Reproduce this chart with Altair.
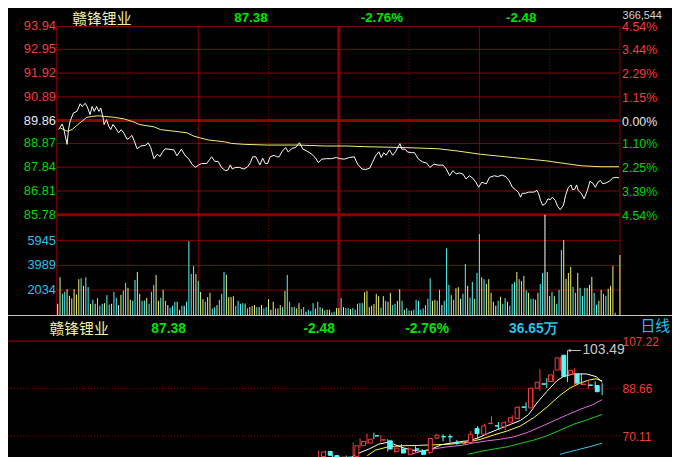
import altair as alt
import pandas as pd

# ---------------- values ----------------
stock_name = "赣锋锂业"
last_price = "87.38"
change_abs = "-2.48"
change_pct = "-2.76%"
total_volume = "366,544"
day_volume = "36.65万"
period_name = "日线"
prev_close = 89.86

price_ticks = [93.94, 92.95, 91.92, 90.89, 89.86, 88.87, 87.84, 86.81, 85.78]
pct_ticks = ["4.54%", "3.44%", "2.29%", "1.15%", "0.00%", "1.10%", "2.25%", "3.39%", "4.54%"]
vol_ticks = [5945, 3989, 2034]
kline_ticks = [107.22, 88.66, 70.11]
time_dotted = [30, 90, 150, 210]
time_solid = [60, 180, 240]
time_center = [120]

# intraday price (minute, price)
intraday = [
    (0.4, 89.47), (1.9, 89.71), (2.5, 89.54), (4.0, 88.83), (4.6, 89.47), (5.3, 89.83), (6.7, 90.19),
    (8.2, 90.26), (9.6, 90.59), (10.5, 90.47), (11.7, 90.61), (12.6, 90.47), (13.8, 90.12), (14.7, 90.47),
    (15.6, 90.26), (16.6, 90.47), (17.6, 90.26), (18.4, 90.40), (19.4, 89.97), (19.8, 89.69), (20.8, 89.90),
    (21.8, 89.62), (22.6, 89.47), (23.6, 89.69), (24.7, 89.54), (26.0, 89.33), (27.1, 89.47), (28.2, 89.33),
    (29.6, 89.05), (30.6, 89.11), (31.7, 89.22), (32.7, 88.97), (33.9, 88.64), (35.5, 88.76), (37.6, 88.79),
    (38.6, 88.90), (39.7, 88.69), (41.1, 88.21), (42.5, 88.40), (43.7, 88.30), (44.6, 88.47), (45.8, 88.64),
    (47.5, 88.62), (49.6, 88.59), (50.9, 88.33), (52.8, 88.62), (54.5, 88.33), (55.9, 88.21), (57.3, 87.97),
    (58.7, 87.83), (60.1, 87.93), (61.5, 88.00), (63.6, 88.00), (65.7, 88.29), (67.1, 88.09), (68.5, 88.09),
    (69.9, 87.83), (71.6, 87.69), (72.7, 87.72), (73.7, 87.94), (74.5, 87.76), (75.8, 87.83), (77.6, 87.83),
    (79.5, 87.76), (81.1, 87.86), (82.3, 88.04), (83.2, 88.29), (84.6, 88.29), (86.3, 87.94), (87.5, 88.23),
    (88.6, 88.00), (89.6, 88.00), (90.7, 88.29), (92.4, 88.36), (93.5, 88.29), (94.5, 88.29), (95.9, 88.54),
    (97.3, 88.69), (98.4, 88.50), (100.1, 88.66), (101.5, 88.69), (103.2, 88.90), (104.7, 88.62), (106.4, 88.54),
    (108.5, 88.40), (109.9, 88.26), (111.3, 88.04), (112.7, 88.19), (114.8, 88.21), (116.9, 88.21), (119.0, 88.26),
    (120.4, 88.21), (122.4, 88.19), (124.5, 88.26), (126.6, 88.29), (128.0, 87.97), (129.9, 87.76), (131.5, 87.74),
    (133.2, 87.80), (134.3, 88.04), (135.7, 88.33), (137.1, 88.51), (138.1, 88.26), (139.2, 88.47), (140.2, 88.36),
    (141.6, 88.59), (143.0, 88.36), (144.2, 88.51), (145.1, 88.69), (146.1, 88.86), (146.9, 88.62), (148.4, 88.62),
    (149.3, 88.50), (150.9, 88.47), (152.3, 88.47), (154.0, 88.19), (155.7, 88.07), (157.5, 88.02), (158.9, 87.83),
    (160.6, 87.97), (162.4, 87.93), (164.5, 87.93), (165.9, 87.76), (167.3, 87.47), (168.7, 87.69), (170.1, 87.55),
    (171.5, 87.59), (172.9, 87.55), (174.3, 87.33), (175.7, 87.47), (177.1, 87.37), (178.5, 87.19), (179.7, 86.97),
    (181.0, 87.19), (183.0, 87.12), (184.3, 87.40), (186.4, 87.47), (187.8, 87.43), (189.6, 87.50), (191.3, 87.43),
    (192.7, 87.26), (194.1, 86.97), (195.5, 86.86), (196.6, 86.76), (197.6, 86.54), (198.3, 86.71), (199.7, 86.71),
    (201.1, 86.76), (203.3, 86.76), (204.6, 86.83), (205.3, 86.69), (206.1, 86.40), (207.0, 86.19), (208.2, 86.26),
    (209.3, 86.47), (210.3, 86.43), (211.2, 86.54), (212.4, 86.40), (213.4, 86.14), (214.5, 86.00), (215.9, 86.19),
    (216.8, 86.62), (218.0, 86.97), (219.1, 87.07), (219.8, 86.86), (220.8, 86.90), (221.5, 87.07), (222.2, 86.83),
    (223.6, 86.69), (224.7, 86.47), (226.1, 86.83), (227.2, 87.23), (228.5, 87.14), (229.5, 86.97), (230.6, 87.19),
    (231.7, 87.26), (232.7, 87.12), (234.1, 87.16), (235.5, 87.23), (236.9, 87.37), (238.3, 87.40), (239.6, 87.38),
]

# intraday average price (minute, price)
avg_line = [
    (1.1, 89.54), (4.0, 89.40), (6.1, 89.47), (8.2, 89.65), (10.3, 89.83), (12.4, 90.00), (14.5, 90.04),
    (17.3, 90.07), (20.1, 90.04), (24.3, 90.00), (28.5, 89.93), (32.7, 89.79), (34.8, 89.69), (41.1, 89.59),
    (43.9, 89.47), (49.6, 89.40), (55.2, 89.33), (58.0, 89.19), (60.8, 89.11), (64.3, 89.02), (71.3, 88.94),
    (74.1, 88.87), (79.7, 88.83), (89.6, 88.80), (102.2, 88.80), (114.1, 88.76), (123.3, 88.76), (130.9, 88.73),
    (148.4, 88.69), (162.4, 88.64), (170.8, 88.54), (180.6, 88.40), (194.1, 88.26), (208.2, 88.12), (216.6, 88.00),
    (223.6, 87.90), (232.0, 87.86), (239.6, 87.86),
]

# per-minute volume (hands)
vol_morning = [
    946, 3047, 1734, 1891, 2102, 1576, 1366, 2102, 1681, 2890,
    2969, 2364, 3047, 2259, 946, 1261, 946, 1392, 788, 946,
    998, 1629, 867, 946, 1891, 1419, 841, 1655, 1997, 2601,
    2207, 1261, 1182, 2837, 3468, 1734, 1182, 1208, 1419, 946,
    1891, 2443, 3231, 1182, 1419, 2049, 1182, 841, 630, 788,
    1103, 1103, 473, 788, 788, 1103, 5911, 3310, 3941, 3310,
    2758, 1891, 1314, 1103, 1471, 1813, 578, 683, 841, 1261,
    1734, 3468, 3231, 1471, 1471, 1550, 762, 1182, 946, 998,
    946, 578, 683, 762, 841, 683, 683, 841, 578, 683,
    1314, 473, 1103, 578, 578, 841, 683, 1970, 3231, 1103,
    683, 683, 578, 998, 525, 683, 315, 473, 368, 998,
    578, 1103, 683, 578, 420, 473, 473, 263, 315,
]
vol_afternoon = [
    604, 604, 1392, 683, 604, 604, 525, 604, 473, 946,
    998, 998, 1865, 1970, 683, 788, 919, 1734, 1550, 630,
    1550, 1182, 1103, 1813, 841, 946, 1182, 2102, 1182, 473,
    604, 420, 394, 473, 1261, 1182, 473, 578, 841, 1340,
    2969, 1182, 1261, 1182, 2049, 841, 1182, 5333, 2443, 1629,
    1261, 2180, 2259, 1340, 1734, 4098, 2364, 1419, 2680, 1340,
    3389, 6462, 3047, 2890, 2522, 2890, 1813, 1103, 788, 1182,
    1497, 946, 1392, 1103, 788, 2522, 2680, 3468, 2890, 2758,
    3152, 2023, 1813, 1340, 1340, 1261, 1813, 2522, 3389, 9200,
    3468, 1550, 1891, 1550, 946, 2049, 5201, 5990, 2916, 3389,
    3862, 2285, 1813, 3389, 2207, 1576, 2207, 2207, 2443, 3074,
    1813, 867, 1182, 2049, 1734, 1576, 2128, 2364, 3941, 236,
    60, 4807,
]
# U = up tick, D = down tick, F = unchanged
vol_dir = (
    "FUDDUUUUUU" "DUDDUDUDDD" "UDDUDDFUDD" "UUDDUUDDUD" "DDUUDUDFDD" "DUUDFDDDDU"
    "DUUDUUDDUD" "DDUUUUDDDD" "UDUUUDUUDD" "UFUDUUDUDD" "UDUUDDFDDD" "UDDUDUUDD"
    "UUDUDDUDDD" "DDUUUUUUUD" "UDUUDDUUDU" "DDUDDDDDDD" "DUUDDFDDDU" "DUUFDDUDDU"
    "DDUDUUUUFD" "UDDUDDDUDD" "UDUDDUUDDF" "UUDUDDDUUU" "UDDUDDDUUU" "DDUUDDUUUDDU"
)

# daily candles (oldest first)
k_open = [62.0, 64.0, 62.4, 61.0, 61.8, 62.0, 66.24, 67.27, 70.15, 68.50, 68.17, 64.05, 64.95, 62.89,
          65.00, 64.30, 63.66, 69.20, 69.80, 69.80, 67.60, 67.10, 67.52, 72.94, 70.74, 74.95, 74.05,
          73.71, 75.51, 76.93, 81.40, 81.05, 88.78, 90.45, 91.36, 95.87, 101.66, 94.19, 94.32, 90.25,
          90.00, 89.80]
k_high = [64.3, 64.2, 62.7, 62.3, 62.4, 67.52, 69.20, 71.00, 71.39, 70.36, 68.81, 66.24, 66.88, 65.59,
          66.24, 64.95, 69.20, 71.00, 70.74, 70.74, 68.55, 68.43, 72.03, 73.97, 74.87, 77.83, 75.51,
          75.90, 78.22, 81.70, 83.24, 88.85, 96.12, 92.65, 95.87, 101.02, 103.49, 96.51, 94.58, 92.00,
          91.50, 90.70]
k_low = [61.5, 62.0, 60.8, 60.5, 60.6, 61.5, 65.59, 66.88, 68.81, 67.52, 63.92, 63.40, 63.20, 62.50,
         63.66, 62.50, 62.89, 68.81, 67.91, 67.52, 66.62, 66.62, 67.14, 69.07, 70.49, 74.61, 72.68,
         72.42, 75.25, 76.54, 79.76, 80.41, 87.75, 88.78, 91.10, 95.61, 91.10, 89.81, 90.07, 88.52,
         88.78, 86.00]
k_close = [63.8, 62.5, 61.2, 61.8, 61.0, 66.24, 67.91, 68.81, 70.10, 68.55, 64.95, 65.33, 63.40, 64.95,
           64.95, 62.89, 69.07, 70.36, 69.71, 69.71, 67.52, 67.14, 70.74, 71.00, 73.97, 75.00, 73.97,
           75.25, 77.19, 81.31, 81.31, 88.78, 91.10, 90.33, 93.93, 100.63, 93.29, 95.74, 90.71, 90.33,
           89.86, 87.38]
max_price = 103.49
max_day = 36

# moving averages (day, value) as drawn
ma5 = [(4.43, 61.08), (5.38, 62.89), (7.29, 64.95), (8.71, 66.88), (9.90, 67.52), (10.86, 66.88),
       (12.05, 65.59), (13.48, 64.56), (14.90, 64.05), (16.33, 64.95), (17.76, 66.62), (19.67, 67.52),
       (21.57, 68.17), (23.0, 69.20), (24.43, 71.00), (26.33, 73.06), (27.76, 74.61), (29.19, 76.15),
       (30.38, 78.48), (31.57, 82.98), (33.0, 87.49), (34.43, 91.62), (35.38, 93.29), (36.81, 94.32),
       (38.71, 94.32), (40.14, 93.29), (41.0, 91.10)]
ma10 = [(7.05, 62.37), (8.24, 64.56), (10.14, 65.85), (12.05, 66.24), (14.43, 66.37), (16.81, 66.62),
        (19.19, 66.88), (21.57, 67.65), (23.48, 68.81), (25.38, 70.49), (27.29, 72.03), (29.19, 73.97),
        (31.10, 77.19), (33.0, 81.31), (34.9, 85.95), (36.33, 88.78), (37.76, 90.71), (39.19, 92.00),
        (40.14, 92.39), (41.0, 91.62)]
ma20 = [(13.48, 63.02), (14.9, 64.05), (16.81, 65.08), (18.71, 65.85), (20.62, 66.37), (22.52, 67.40),
        (24.43, 68.17), (26.33, 68.81), (28.24, 69.71), (30.14, 71.39), (32.05, 73.58), (33.95, 75.90),
        (35.86, 78.22), (37.76, 80.41), (39.67, 82.34), (41.0, 84.27)]
ma30 = [(21.57, 62.89), (23.48, 64.05), (25.38, 64.95), (27.29, 65.85), (29.19, 67.14), (31.10, 68.43),
        (33.0, 70.10), (34.9, 72.29), (36.81, 74.61), (38.71, 76.28), (41.0, 78.48)]
ma60 = [(34.9, 62.89), (37.29, 64.56), (39.19, 65.85), (41.0, 67.27)]

# ---------------- styling / layout ----------------
OFF = 8  # page margin of the browser


def px(v):
    return v - OFF


W, H = 672, 449
NUM_FONT = "Liberation Sans"
CJK_FONT = "Noto Sans CJK SC"
GRID = "#8C0000"
RED_TXT = "#F03C3C"
GREEN_TXT = "#00D800"
WHITE_TXT = "#E2E8EE"
CYAN_TXT = "#22C4EC"
UP_C = "#FF3C3C"
DOWN_C = "#54FCFC"

X_MIN = alt.Scale(domain=[0, 240], range=[px(58.3), px(627.3)], nice=False, zero=False)
Y_PRICE = alt.Scale(domain=[85.78, 93.94], range=[px(214.5), px(24)], nice=False, zero=False)
Y_VOL = alt.Scale(domain=[0, 8000], range=[px(316.7), px(214.5)], nice=False, zero=False, clamp=True)
X_DAY = alt.Scale(domain=[0, 41], range=[px(322.3), px(609.3)], nice=False, zero=False)
Y_K = alt.Scale(domain=[70.11, 107.22], range=[px(438.3), px(342.3)], nice=False, zero=False)


def hrules(values, scale, x0, x1, width=1, dash=None, color=GRID):
    kw = dict(color=color, strokeWidth=width)
    if dash:
        kw["strokeDash"] = dash
    return alt.Chart(pd.DataFrame({"v": values})).mark_rule(**kw).encode(
        y=alt.Y("v:Q", scale=scale, axis=None), x=alt.value(x0), x2=alt.value(x1))


def vrules(values, scale, y0, y1, width=1, dash=None, color=GRID):
    kw = dict(color=color, strokeWidth=width)
    if dash:
        kw["strokeDash"] = dash
    return alt.Chart(pd.DataFrame({"t": values})).mark_rule(**kw).encode(
        x=alt.X("t:Q", scale=scale, axis=None), y=alt.value(y0), y2=alt.value(y1))


def labels(values, texts, colors, scale, x, align, size=13, dy=0):
    df = pd.DataFrame({"v": values, "label": texts, "color": colors})
    return alt.Chart(df).mark_text(align=align, baseline="middle", font=NUM_FONT, fontSize=size,
                                   dy=dy).encode(
        y=alt.Y("v:Q", scale=scale, axis=None), x=alt.value(x),
        text="label:N", color=alt.Color("color:N", scale=None))


def header(text, x, y, color, size=14, bold=True, font=NUM_FONT):
    return alt.Chart(pd.DataFrame({"t": [text]})).mark_text(
        align="left", baseline="middle", font=font, fontSize=size,
        fontWeight="bold" if bold else "normal", color=color).encode(
        text="t:N", x=alt.value(x), y=alt.value(y))


def side_color(v):
    if abs(v - prev_close) < 1e-9:
        return WHITE_TXT
    return RED_TXT if v > prev_close else GREEN_TXT


layers = []

# --- grid of the minute chart ---
thin_levels = [v for v in price_ticks if v not in (prev_close, price_ticks[-1])]
layers.append(hrules(thin_levels, Y_PRICE, px(57.3), px(627.3)))
layers.append(hrules(vol_ticks, Y_VOL, px(57.3), px(627.3)))
layers.append(vrules(time_dotted, X_MIN, px(24), px(316), dash=[1, 2]))
layers.append(vrules(time_solid, X_MIN, px(24), px(316)))
layers.append(alt.Chart(pd.DataFrame({"a": [0]})).mark_rule(color=GRID, strokeWidth=1).encode(
    x=alt.value(px(57.3)), y=alt.value(px(24)), y2=alt.value(px(316))))
layers.append(vrules(time_center, X_MIN, px(24), px(316), width=3))
layers.append(hrules([prev_close, price_ticks[-1]], Y_PRICE, px(57.3), px(627.3), width=3))

# --- volume bars ---
vols = vol_morning + vol_afternoon
dirs = list(vol_dir)
n = min(len(vols), len(dirs))
dir_color = {"U": "#F4F47C", "D": DOWN_C, "F": "#FFFFFF"}
vol_df = pd.DataFrame({"minute": list(range(n)), "vol": vols[:n], "base": [0] * n,
                       "color": [dir_color[d] for d in dirs[:n]]})
layers.append(alt.Chart(vol_df).mark_rule(strokeWidth=1).encode(
    x=alt.X("minute:Q", scale=X_MIN, axis=None),
    y=alt.Y("vol:Q", scale=Y_VOL, axis=None), y2="base:Q",
    color=alt.Color("color:N", scale=None)))

# --- price & average lines ---
avg_df = pd.DataFrame(avg_line, columns=["minute", "price"])
layers.append(alt.Chart(avg_df).mark_line(color="#F2F27A", strokeWidth=1).encode(
    x=alt.X("minute:Q", scale=X_MIN, axis=None), y=alt.Y("price:Q", scale=Y_PRICE, axis=None)))
px_df = pd.DataFrame(intraday, columns=["minute", "price"])
layers.append(alt.Chart(px_df).mark_line(color="#FFFFFF", strokeWidth=1).encode(
    x=alt.X("minute:Q", scale=X_MIN, axis=None), y=alt.Y("price:Q", scale=Y_PRICE, axis=None)))

# --- axis labels of the minute chart ---
layers.append(labels(price_ticks, [f"{v:.2f}" for v in price_ticks],
                     [side_color(v) for v in price_ticks], Y_PRICE, px(56.5), "right"))
layers.append(labels(price_ticks, pct_ticks, [side_color(v) for v in price_ticks],
                     Y_PRICE, px(629.5), "left", size=12.5, dy=1))
layers.append(labels(vol_ticks, [str(v) for v in vol_ticks], [CYAN_TXT] * len(vol_ticks),
                     Y_VOL, px(56.5), "right"))

# --- top header (kept just inside the page's top margin) ---
HY = 7.5
layers.append(header(stock_name, px(73), 8.5, "#F2F2A6", size=15, bold=False, font=CJK_FONT))
layers.append(header(last_price, px(237), HY, "#00E400", size=13.5))
layers.append(header(change_pct, px(365), HY, "#00E400", size=13.5))
layers.append(header(change_abs, px(512), HY, "#00E400", size=13.5))
layers.append(header(total_volume, px(630), 5.5, "#D4D4D4", size=11, bold=False))

# --- lower (daily) panel frame ---
layers.append(alt.Chart(pd.DataFrame({"a": [0]})).mark_rule(color="#C8C8C8", strokeWidth=1).encode(
    x=alt.value(0), x2=alt.value(W), y=alt.value(px(316.5))))
layers.append(hrules([kline_ticks[0]], Y_K, 0, px(627.3), color="#B00000"))
layers.append(hrules(kline_ticks[1:], Y_K, 0, px(627.3), dash=[1, 2], color="#B00000"))
layers.append(labels(kline_ticks, [f"{v:.2f}" for v in kline_ticks], [RED_TXT] * 3, Y_K, px(630), "left",
                     size=12, dy=1))

LY = px(330)
layers.append(header(stock_name, px(50), LY, "#F2F2A6", size=15, bold=False, font=CJK_FONT))
layers.append(header(last_price, px(153), LY, "#00E400"))
layers.append(header(change_abs, px(307), LY, "#00E400"))
layers.append(header(change_pct, px(410), LY, "#00E400"))
layers.append(header(day_volume, px(515), LY, CYAN_TXT))
layers.append(header(period_name, px(648), px(327.5), CYAN_TXT, size=15, bold=False, font=CJK_FONT))

# --- moving averages ---
for series, col in [(ma60, "#3CC8F0"), (ma30, "#20D020"), (ma20, "#E070E0"), (ma10, "#FFFF40"), (ma5, "#FFFFFF")]:
    df = pd.DataFrame(series, columns=["day", "ma"])
    layers.append(alt.Chart(df).mark_line(color=col, strokeWidth=1).encode(
        x=alt.X("day:Q", scale=X_DAY, axis=None), y=alt.Y("ma:Q", scale=Y_K, axis=None)))

# --- candles ---
k_df = pd.DataFrame({"day": list(range(len(k_open))), "open": k_open, "high": k_high,
                     "low": k_low, "close": k_close})
k_df["stroke"] = [UP_C if c > o else DOWN_C for o, c in zip(k_open, k_close)]
k_df["fill"] = ["#000000" if c > o else DOWN_C for o, c in zip(k_open, k_close)]
layers.append(alt.Chart(k_df).mark_rule(strokeWidth=1).encode(
    x=alt.X("day:Q", scale=X_DAY, axis=None),
    y=alt.Y("low:Q", scale=Y_K, axis=None), y2="high:Q",
    color=alt.Color("stroke:N", scale=None)))
layers.append(alt.Chart(k_df).mark_bar(size=4, strokeWidth=1).encode(
    x=alt.X("day:Q", scale=X_DAY, axis=None),
    y=alt.Y("open:Q", scale=Y_K, axis=None), y2="close:Q",
    fill=alt.Fill("fill:N", scale=None), stroke=alt.Stroke("stroke:N", scale=None)))

# --- max price marker ---
mx = pd.DataFrame({"d0": [max_day + 0.2], "d1": [max_day + 1.9], "p": [max_price],
                   "dt": [max_day + 2.0], "label": [f"{max_price:.2f}"]})
layers.append(alt.Chart(mx).mark_rule(color="#C8C8C8", strokeWidth=1).encode(
    x=alt.X("d0:Q", scale=X_DAY, axis=None), x2="d1:Q", y=alt.Y("p:Q", scale=Y_K, axis=None)))
layers.append(alt.Chart(mx).mark_point(shape="triangle-left", filled=True, size=18, color="#C8C8C8").encode(
    x=alt.X("d0:Q", scale=X_DAY, axis=None), y=alt.Y("p:Q", scale=Y_K, axis=None)))
layers.append(alt.Chart(mx).mark_text(align="left", baseline="middle", font=NUM_FONT, fontSize=14,
                                      color="#C8C8C8", dx=1).encode(
    x=alt.X("dt:Q", scale=X_DAY, axis=None), y=alt.Y("p:Q", scale=Y_K, axis=None), text="label:N"))

chart = alt.layer(*layers).resolve_scale(x="independent", y="independent").properties(
    width=W, height=H, padding=0, background="#000000",
    autosize=alt.AutoSizeParams(type="none"),
).configure_view(strokeWidth=0)

chart.save("out.html", embed_options={"renderer": "svg", "actions": False})
